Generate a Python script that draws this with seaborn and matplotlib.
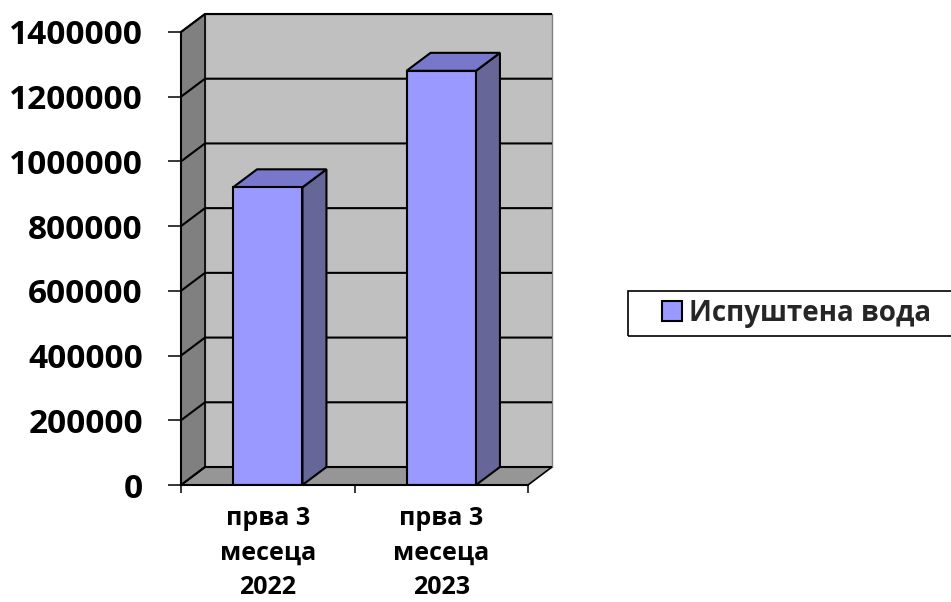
import matplotlib
matplotlib.use("Agg")
import matplotlib.pyplot as plt
import seaborn as sns
import pandas as pd
from matplotlib.patches import Polygon, Rectangle, Patch

# data
categories = ["прва 3\nмесеца\n2022", "прва 3\nмесеца\n2023"]
values = [920000, 1280000]
series_name = "Испуштена вода"
y_ticks = [0, 200000, 400000, 600000, 800000, 1000000, 1200000, 1400000]

sns.set_style("white")
plt.rcParams['font.family'] = ['Open Sans', 'DejaVu Sans']
plt.rcParams['font.weight'] = 'bold'

W, H = 951, 602
fig = plt.figure(figsize=(W / 100, H / 100), dpi=100)
# front plane: x 181..528 px, y 32..485 px; depth offset 24 px right, 18 px up
ax = fig.add_axes([181 / W, (H - 485) / H, 371 / W, 471 / H])

ymax = y_ticks[-1]
DX = 24 / 173.5
DY = 18 * ymax / 453

df = pd.DataFrame({"period": categories, "value": values})
sns.barplot(data=df, x="period", y="value", width=0.4, color="#9999FF",
            saturation=1, edgecolor="black", linewidth=1.5, ax=ax, zorder=5)
bars = list(ax.patches)

# walls and floor
ax.add_patch(Rectangle((-0.5 + DX, DY), 2, ymax, fc="#C0C0C0", ec="#808080",
                       lw=1, zorder=0, clip_on=False))
ax.add_patch(Polygon([(-0.5, 0), (1.5, 0), (1.5 + DX, DY), (-0.5 + DX, DY)],
                     closed=True, fc="#969696", ec="black", lw=1.2, zorder=1, clip_on=False))
ax.add_patch(Polygon([(-0.5, 0), (-0.5, ymax), (-0.5 + DX, ymax + DY), (-0.5 + DX, DY)],
                     closed=True, fc="#808080", ec="black", lw=1.2, zorder=1, clip_on=False))

# gridlines on the back wall and the left wall
for v in y_ticks:
    ax.plot([-0.5, -0.5 + DX, 1.5 + DX], [v, v + DY, v + DY], color="black",
            lw=1.5, zorder=2, clip_on=False, solid_capstyle="butt")

# 3d faces of the bars
for p in bars:
    x0, w, h = p.get_x(), p.get_width(), p.get_height()
    ax.add_patch(Polygon([(x0 + w, 0), (x0 + w + DX, DY), (x0 + w + DX, h + DY), (x0 + w, h)],
                         closed=True, fc="#666699", ec="black", lw=1.5, zorder=4))
    ax.add_patch(Polygon([(x0, h), (x0 + DX, h + DY), (x0 + w + DX, h + DY), (x0 + w, h)],
                         closed=True, fc="#7777CC", ec="black", lw=1.5, zorder=4))

ax.set_xlim(-0.5, 1.5 + DX)
ax.set_ylim(0, ymax + DY)
ax.set_xlabel("")
ax.set_ylabel("")

for s in ["top", "right"]:
    ax.spines[s].set_visible(False)
ax.spines["left"].set_bounds(0, ymax)
ax.spines["bottom"].set_bounds(-0.5, 1.5)
for s in ["left", "bottom"]:
    ax.spines[s].set_color("black")
    ax.spines[s].set_linewidth(1.5)
    ax.spines[s].set_zorder(6)

ax.set_yticks(y_ticks)
ax.set_yticklabels([str(v) for v in y_ticks], fontsize=24, fontweight="bold")
ax.tick_params(axis="y", which="major", direction="out", length=9.4, width=1.1,
               pad=18, color="black", labelcolor="black", left=True)

ax.set_xticks([-0.5, 0.5, 1.5])
ax.set_xticklabels(["", "", ""])
ax.set_xticks([0, 1], minor=True)
ax.set_xticklabels(categories, minor=True, fontsize=18, fontweight="bold",
                   linespacing=1.5)
ax.tick_params(axis="x", which="minor", length=0, pad=15, labelcolor="black")
ax.tick_params(axis="x", which="major", length=5.8, width=1.1, color="black", bottom=True)

# legend
handle = Patch(fc="#9999FF", ec="black", lw=1.5)
fig.legend(handles=[handle], labels=[series_name], loc="center left",
           bbox_to_anchor=(648 / W, 1 - 313 / H), frameon=False, borderpad=0,
           handlelength=0.72, handleheight=0.72, handletextpad=0.25,
           prop={"size": 20, "weight": "bold"})
fig.add_artist(Rectangle((628 / W, 1 - 336 / H), 400 / W, 45 / H,
                         transform=fig.transFigure, fill=False, ec="black", lw=1.2))

fig.savefig("out.png", dpi=100)
